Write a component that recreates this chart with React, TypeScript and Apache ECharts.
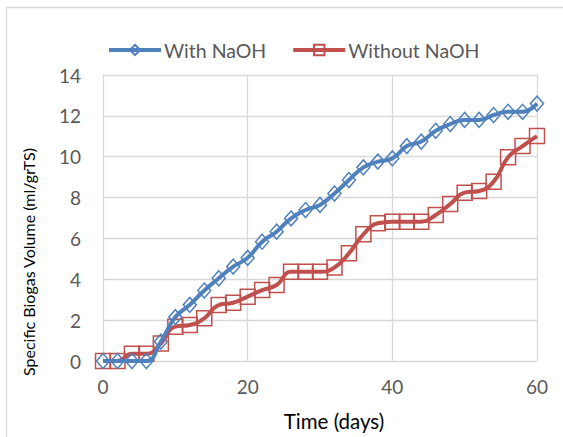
import React, { useEffect, useRef } from "react";
import * as echarts from "echarts";

const days = [0, 2, 4, 6, 8, 10, 12, 14, 16, 18, 20, 22, 24, 26, 28, 30, 32, 34, 36, 38, 40, 42, 44, 46, 48, 50, 52, 54, 56, 58, 60];
const withNaOH = [0, 0, 0, 0, 0.95, 2.15, 2.75, 3.45, 4.05, 4.62, 5.05, 5.84, 6.33, 6.98, 7.39, 7.64, 8.2, 8.86, 9.48, 9.76, 9.92, 10.52, 10.74, 11.27, 11.6, 11.8, 11.8, 12.04, 12.2, 12.2, 12.6];
const withoutNaOH = [0, 0, 0.35, 0.35, 0.86, 1.68, 1.76, 2.09, 2.74, 2.85, 3.15, 3.47, 3.72, 4.37, 4.37, 4.37, 4.58, 5.27, 6.2, 6.74, 6.82, 6.82, 6.82, 7.15, 7.68, 8.24, 8.32, 8.78, 9.97, 10.52, 11.01];
const seriesNames = ["With NaOH", "Without NaOH"];
const xTitle = "Time (days)";
const yTitle = "Specific Biogas Volume (ml/grTS)";

const BLUE = "#4F81BD";
const RED = "#C0504D";
const GRID = "#D9D9D9";
const FONT = "Lato";

export default function App() {
  const ref = useRef<HTMLDivElement>(null);
  useEffect(() => {
    if (!ref.current) return;
    const chart = echarts.init(ref.current, undefined, { renderer: "svg" });
    const pair = (ys: number[]) => days.map((d, i) => [d, ys[i]]);
    chart.setOption({
      animation: false,
      backgroundColor: "#fff",
      textStyle: { fontFamily: FONT },
      legend: {
        left: 102,
        top: 35,
        itemWidth: 52,
        itemHeight: 13,
        itemGap: 25,
        lineStyle: { width: 4 },
        textStyle: { fontFamily: FONT, fontSize: 19.5, color: "#595959", padding: [0, 0, 0, -2] },
        data: seriesNames,
      },
      grid: { left: 103, right: 26, top: 75, bottom: 76, containLabel: false },
      xAxis: {
        type: "value",
        min: 0,
        max: 60,
        interval: 20,
        axisLine: { show: false },
        axisTick: { show: false },
        axisLabel: { fontFamily: FONT, fontSize: 19, color: "#595959", margin: 16 },
        splitLine: { show: true, lineStyle: { color: GRID, width: 1.3 } },
      },
      yAxis: {
        type: "value",
        min: 0,
        max: 14,
        interval: 2,
        axisLine: { show: false },
        axisTick: { show: false },
        axisLabel: { fontFamily: FONT, fontSize: 19, color: "#595959", margin: 22 },
        splitLine: { show: true, lineStyle: { color: GRID, width: 1.3 } },
      },
      graphic: [
        {
          type: "rect",
          shape: { x: 6.5, y: 7.5, width: 700, height: 600 },
          style: { fill: "none", stroke: GRID, lineWidth: 1.3 },
          silent: true,
        },
        {
          type: "text",
          x: 334,
          y: 421,
          style: {
            text: xTitle,
            fontFamily: FONT,
            fontSize: 20.5,
            fill: "#000",
            align: "center",
            verticalAlign: "middle",
          },
        },
        {
          type: "text",
          x: 28,
          y: 262,
          rotation: Math.PI / 2,
          style: {
            text: yTitle,
            fontFamily: FONT,
            fontSize: 16,
            fill: "#000",
            align: "center",
            verticalAlign: "middle",
          },
        },
      ],
      series: [
        {
          name: seriesNames[0],
          type: "line",
          smooth: 0.5,
          data: pair(withNaOH),
          symbol: "diamond",
          symbolSize: [13, 15],
          lineStyle: { color: BLUE, width: 4 },
          itemStyle: { color: "rgba(255,255,255,0)", borderColor: BLUE, borderWidth: 1.5 },
          z: 3,
        },
        {
          name: seriesNames[1],
          type: "line",
          smooth: 0.5,
          data: pair(withoutNaOH),
          symbol: "rect",
          symbolSize: 15,
          lineStyle: { color: RED, width: 4 },
          itemStyle: { color: "rgba(255,255,255,0)", borderColor: RED, borderWidth: 1.5 },
          z: 2,
        },
      ],
    });
    return () => chart.dispose();
  }, []);
  return <div ref={ref} style={{ position: "absolute", left: 0, top: 0, width: 563, height: 437 }} />;
}
